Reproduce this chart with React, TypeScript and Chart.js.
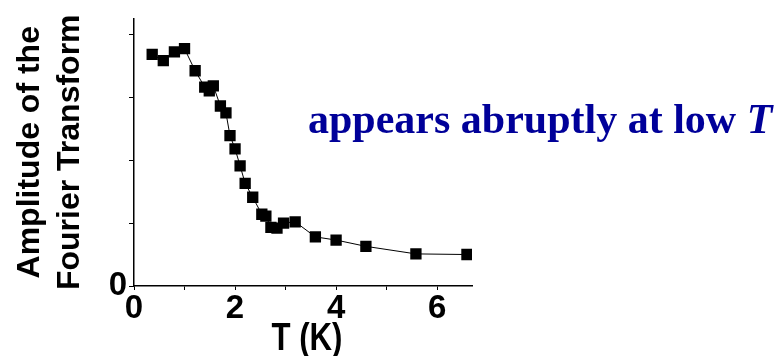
import React, { useEffect, useRef } from "react";
import { Chart, registerables } from "chart.js";

Chart.register(...registerables);

// Temperature (K) and Fourier-transform amplitude (arb. units)
const temperatures = [
  0.36, 0.58, 0.8, 1.0, 1.21, 1.4, 1.49, 1.57, 1.71, 1.82, 1.9, 2.0, 2.1,
  2.2, 2.35, 2.53, 2.61, 2.71, 2.83, 2.96, 3.19, 3.59, 4.0, 4.59, 5.58, 6.59,
];
const amplitudes = [
  3.68, 3.58, 3.72, 3.77, 3.42, 3.16, 3.1, 3.18, 2.86, 2.75, 2.39, 2.18, 1.91,
  1.63, 1.41, 1.14, 1.11, 0.93, 0.92, 1.0, 1.02, 0.78, 0.73, 0.63, 0.51, 0.5,
];
const xTickValues = [0, 1, 2, 3, 4, 5, 6];
const xTickLabels = ["0", "2", "4", "6"];
const yTickValues = [0, 1, 2, 3, 4];
const yTickLabels = ["0"];
const yTitleLines = ["Amplitude of the", "Fourier Transform"];
const xTitle = "T (K)";
const noteText = "appears abruptly at low ";
const noteItalic = "T";

const SANS = "'Liberation Sans', Arial, Helvetica, sans-serif";
const SERIF = "'Liberation Serif', 'Times New Roman', Times, serif";

// Condensed bold x-axis title, centred under the x scale
const xTitlePlugin = {
  id: "xTitlePlugin",
  afterDraw(chart: Chart) {
    const ctx = chart.ctx;
    const xs: any = chart.scales.x;
    ctx.save();
    ctx.fillStyle = "#000000";
    ctx.textBaseline = "alphabetic";
    ctx.textAlign = "center";
    ctx.font = `bold 38px ${SANS}`;
    const cx = (xs.left + xs.right) / 2 + 4;
    ctx.translate(cx, 350);
    ctx.scale(0.82, 1);
    ctx.fillText(xTitle, 0, 0);
    ctx.restore();
  },
};

const notePlugin = {
  id: "notePlugin",
  afterDraw(chart: Chart) {
    const ctx = chart.ctx;
    ctx.save();
    ctx.fillStyle = "#000099";
    ctx.textBaseline = "alphabetic";
    ctx.textAlign = "left";
    const x = 308;
    const y = 133;
    ctx.font = `bold 42px ${SERIF}`;
    ctx.fillText(noteText, x, y);
    const w = ctx.measureText(noteText).width;
    ctx.font = `italic bold 42px ${SERIF}`;
    ctx.fillText(noteItalic, x + w, y);
    ctx.restore();
  },
};

export default function App() {
  const canvasRef = useRef<HTMLCanvasElement | null>(null);

  useEffect(() => {
    if (!canvasRef.current) return;
    const points = temperatures.map((t, i) => ({ x: t, y: amplitudes[i] }));
    const chart = new Chart(canvasRef.current, {
      type: "line",
      data: {
        datasets: [
          {
            data: points,
            borderColor: "#000000",
            borderWidth: 1,
            pointStyle: "rect",
            pointRadius: 8,
            pointHoverRadius: 8,
            pointBackgroundColor: "#000000",
            pointBorderWidth: 0,
            tension: 0,
          },
        ],
      },
      options: {
        responsive: false,
        animation: false,
        events: [],
        layout: { padding: { top: 14, right: 312, left: 0, bottom: 0 } },
        plugins: {
          legend: { display: false },
          tooltip: { enabled: false },
        },
        scales: {
          x: {
            type: "linear",
            min: 0,
            max: 6.69,
            afterBuildTicks: (scale: any) => {
              scale.ticks = xTickValues.map((v) => ({ value: v }));
            },
            afterFit: (scale: any) => {
              scale.height = 70;
            },
            ticks: {
              autoSkip: false,
              maxRotation: 0,
              padding: 2,
              color: "#000000",
              font: { family: SANS, size: 33, weight: "bold", lineHeight: 1 },
              callback: (v: any) => {
                const s = String(v);
                return xTickLabels.includes(s) ? s : "";
              },
            },
            grid: {
              drawOnChartArea: false,
              drawTicks: true,
              tickLength: 4,
              color: "#000000",
              lineWidth: 1,
            },
            border: { display: true, color: "#000000", width: 1.5 },
            title: { display: false },
          },
          y: {
            type: "linear",
            min: 0,
            max: 4.25,
            afterBuildTicks: (scale: any) => {
              scale.ticks = yTickValues.map((v) => ({ value: v }));
            },
            afterFit: (scale: any) => {
              scale.width = 134;
            },
            ticks: {
              autoSkip: false,
              padding: 2,
              color: "#000000",
              font: { family: SANS, size: 33, weight: "bold", lineHeight: 1 },
              callback: (v: any) => {
                const s = String(v);
                return yTickLabels.includes(s) ? s : "";
              },
            },
            grid: {
              drawOnChartArea: false,
              drawTicks: true,
              tickLength: 5,
              color: "#000000",
              lineWidth: 1,
            },
            border: { display: true, color: "#000000", width: 1.5 },
            title: {
              display: true,
              text: yTitleLines,
              color: "#000000",
              padding: { top: 10, bottom: 0 },
              font: { family: SANS, size: 32, weight: "bold", lineHeight: 1.25 },
            },
          },
        },
      },
      plugins: [xTitlePlugin, notePlugin],
    });
    return () => chart.destroy();
  }, []);

  return (
    <div style={{ position: "absolute", left: 0, top: 0, width: 784, height: 356, background: "#ffffff" }}>
      <canvas ref={canvasRef} width={784} height={356} />
    </div>
  );
}
